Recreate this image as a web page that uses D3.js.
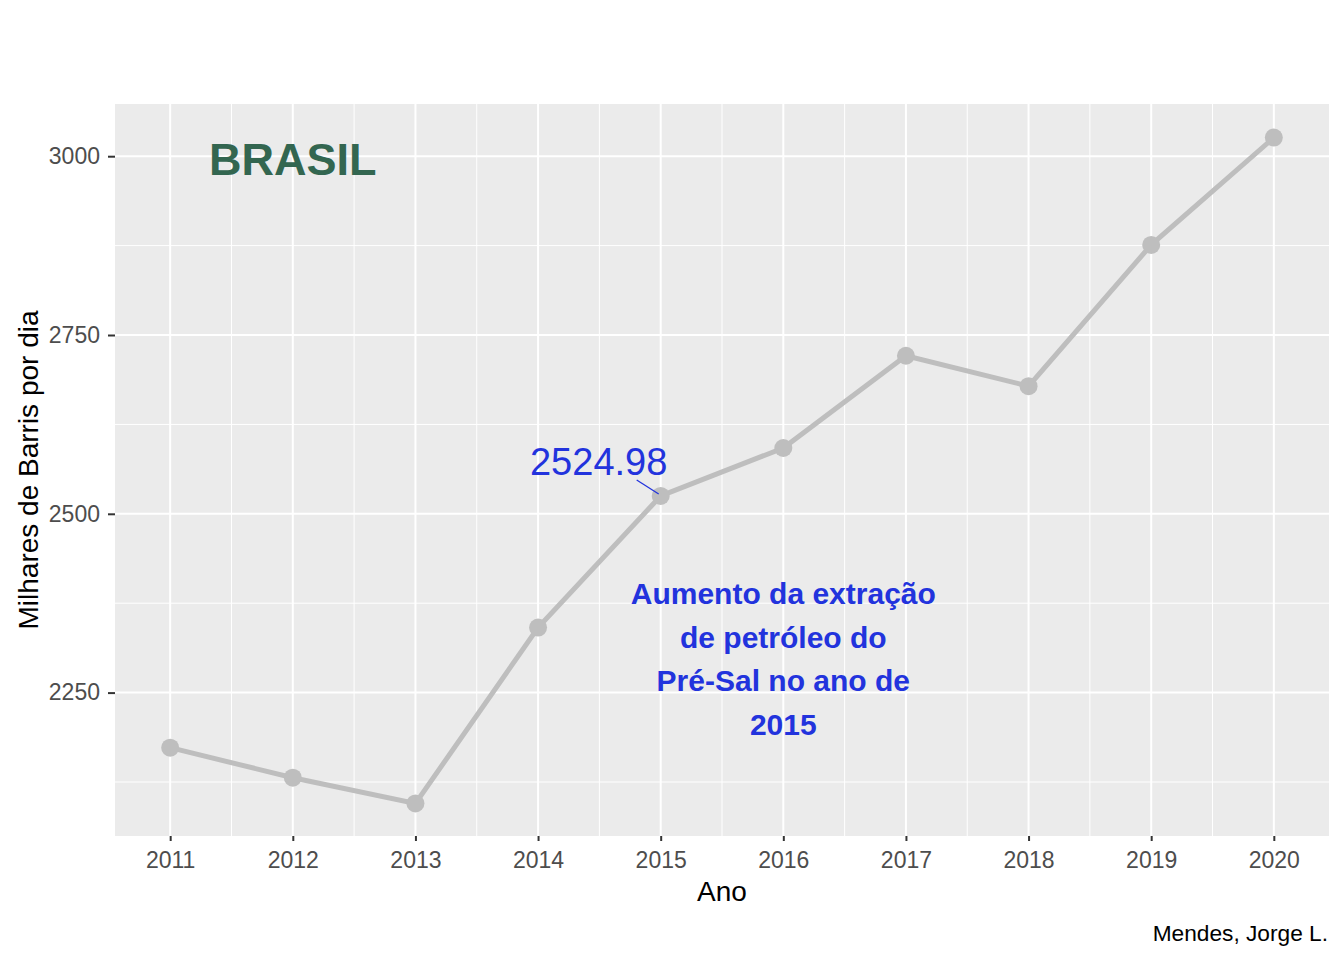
<!DOCTYPE html>
<html><head><meta charset="utf-8">
<script src="https://cdn.jsdelivr.net/npm/d3@7"></script>
<style>body{margin:0;background:#fff;font-family:"Liberation Sans",Arial,sans-serif;}</style>
</head><body>
<svg id="c" width="1344" height="960"></svg>
<script>
const years = [2011,2012,2013,2014,2015,2016,2017,2018,2019,2020];
const production = [2173,2131,2095,2341,2524.98,2592,2721,2678.5,2876,3026];
const yTicks = [2250,2500,2750,3000];
const yMinor = [2125,2375,2625,2875];
const labelYear = 2015, labelValue = 2524.98;
const annotationLines = ["Aumento da extração","de petróleo do","Pré-Sal no ano de","2015"];

const svg = d3.select("#c");
const L=115,R=1329,T=104,B=836;
const x = d3.scaleLinear().domain([2010.55,2020.45]).range([L,R]);
const y = d3.scaleLinear().domain([2049.5,3073]).range([B,T]);
const FF = "Liberation Sans, Arial, sans-serif";

svg.append("rect").attr("x",L).attr("y",T).attr("width",R-L).attr("height",B-T).attr("fill","#EBEBEB");
const g = svg.append("g");
const xMinor = years.slice(0,-1).map(d=>d+0.5);
g.selectAll(".xm").data(xMinor).join("line").attr("x1",d=>x(d)).attr("x2",d=>x(d)).attr("y1",T).attr("y2",B).attr("stroke","#fff").attr("stroke-width",1);
g.selectAll(".ym").data(yMinor).join("line").attr("y1",d=>y(d)).attr("y2",d=>y(d)).attr("x1",L).attr("x2",R).attr("stroke","#fff").attr("stroke-width",1);
g.selectAll(".xM").data(years).join("line").attr("x1",d=>x(d)).attr("x2",d=>x(d)).attr("y1",T).attr("y2",B).attr("stroke","#fff").attr("stroke-width",2);
g.selectAll(".yM").data(yTicks).join("line").attr("y1",d=>y(d)).attr("y2",d=>y(d)).attr("x1",L).attr("x2",R).attr("stroke","#fff").attr("stroke-width",2);

// axes
const xAxis = d3.axisBottom(x).tickValues(years).tickFormat(d3.format("d")).tickSize(5).tickPadding(11);
const xa = svg.append("g").attr("transform",`translate(0,${B})`).call(xAxis);
xa.select(".domain").remove();
xa.selectAll("line").attr("stroke","#333").attr("stroke-width",2);
xa.selectAll("text").attr("fill","#4D4D4D").attr("font-size",23).attr("font-family",FF);
const yAxis = d3.axisLeft(y).tickValues(yTicks).tickFormat(d3.format("d")).tickSize(7).tickPadding(8);
const ya = svg.append("g").attr("transform",`translate(${L},0)`).call(yAxis);
ya.select(".domain").remove();
ya.selectAll("line").attr("stroke","#333").attr("stroke-width",2);
ya.selectAll("text").attr("fill","#4D4D4D").attr("font-size",23).attr("font-family",FF);

// data
const data = years.map((d,i)=>({year:d,v:production[i]}));
svg.append("path").datum(data).attr("fill","none").attr("stroke","#BEBEBE").attr("stroke-width",5)
  .attr("d",d3.line().x(d=>x(d.year)).y(d=>y(d.v)));
svg.selectAll(".pt").data(data).join("circle").attr("cx",d=>x(d.year)).attr("cy",d=>y(d.v)).attr("r",9).attr("fill","#BEBEBE");

// label with repel segment
const lx = x(labelYear), ly = y(labelValue);
svg.append("line").attr("x1",lx-24).attr("y1",ly-16).attr("x2",lx-2).attr("y2",ly-2).attr("stroke","#2233DD").attr("stroke-width",1.3);
svg.append("text").attr("x",lx-62).attr("y",ly-21).attr("text-anchor","middle").attr("font-size",38).attr("fill","#2233DD").text(d3.format(".2f")(labelValue));

// BRASIL
svg.append("text").attr("x",209).attr("y",175).attr("font-size",45).attr("font-weight","bold").attr("fill","#336650").text("BRASIL");

// annotation
const ax = x(2016);
svg.append("g").selectAll("text").data(annotationLines).join("text")
  .attr("x",ax).attr("y",(d,i)=>604+i*43.7).attr("text-anchor","middle").attr("font-size",30).attr("font-weight","bold").attr("fill","#2233DD").text(d=>d);

// titles
svg.append("text").attr("x",(L+R)/2).attr("y",901).attr("text-anchor","middle").attr("font-size",28).attr("fill","#000").text("Ano");
svg.append("text").attr("transform",`translate(38,${(T+B)/2}) rotate(-90)`).attr("text-anchor","middle").attr("font-size",28).attr("fill","#000").text("Milhares de Barris por dia");
svg.append("text").attr("x",1328).attr("y",941).attr("text-anchor","end").attr("font-size",22.7).attr("fill","#000").text("Mendes, Jorge L.");
</script>
</body></html>
